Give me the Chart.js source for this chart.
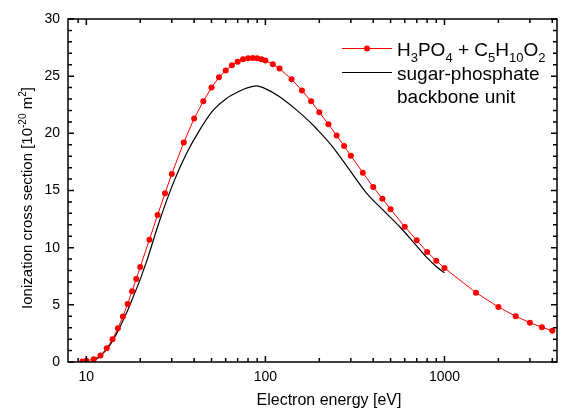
<!DOCTYPE html>
<html>
<head>
<meta charset="utf-8">
<script src="https://cdn.jsdelivr.net/npm/chart.js@4.4.0/dist/chart.umd.min.js"></script>
<style>
    body { margin: 0; background: #fff; }
    #wrap { width: 570px; height: 412px; }
</style>
</head>
<body>
<div id="wrap"><canvas id="chart" width="570" height="412"></canvas></div>
<script>
// H3PO4 + C5H10O2 (red, with markers)
const redEnergy = [9.5, 10, 11, 12, 13, 14, 15, 16, 17, 18, 19, 20, 22.5, 25, 27.5, 30, 35, 40, 45, 50,
    55, 60, 65, 70, 75, 80, 85, 90, 95, 100, 110, 120, 140, 160, 180, 200, 225, 250, 275, 300,
    350, 400, 450, 500, 600, 700, 800, 900, 1000, 1500, 2000, 2500, 3000, 3500, 4000];
const redSigma = [0.05, 0.1, 0.25, 0.57, 1.2, 1.98, 2.95, 3.97, 5.07, 6.18, 7.26, 8.31, 10.7, 12.86, 14.75, 16.45, 19.2, 21.3, 22.8, 24.0,
    24.9, 25.5, 25.95, 26.27, 26.48, 26.56, 26.59, 26.56, 26.48, 26.36, 26.04, 25.66, 24.73, 23.75, 22.8, 21.84, 20.79, 19.8, 18.9, 18.05,
    16.56, 15.3, 14.28, 13.36, 11.84, 10.64, 9.62, 8.86, 8.22, 6.06, 4.81, 4.0, 3.44, 3.03, 2.74];

// sugar-phosphate backbone unit (black line)
const blackEnergy = [10.7, 11.5, 12, 13, 14, 15, 16, 17, 18, 19, 20, 21.7, 25.7, 30.5, 36.3, 43, 51, 60.6, 71.9, 80, 89,
    97, 120, 149, 177, 193, 238, 295, 366, 453, 561, 695, 791, 899, 1000];
const blackSigma = [0, 0.3, 0.55, 1.1, 1.85, 2.7, 3.6, 4.5, 5.45, 6.35, 7.25, 8.8, 12.4, 15.6, 18.25, 20.3, 22.0, 23.05, 23.7, 24.0, 24.15,
    24.0, 23.2, 22.05, 21.0, 20.4, 18.8, 16.8, 14.8, 13.3, 11.85, 10.2, 9.2, 8.35, 7.8];

const xMajorTicks = [10, 100, 1000];
const xMinorTicks = [9, 20, 30, 40, 50, 60, 70, 80, 90, 200, 300, 400, 500, 600, 700, 800, 900, 2000, 3000, 4000];
const yMajorTicks = [0, 5, 10, 15, 20, 25, 30];
const yMinorTicks = [1, 2, 3, 4, 6, 7, 8, 9, 11, 12, 13, 14, 16, 17, 18, 19, 21, 22, 23, 24, 26, 27, 28, 29];

const FONT = '"Liberation Sans", Arial, sans-serif';

function toPoints(xs, ys) {
    return xs.map((x, i) => ({ x: x, y: ys[i] }));
}

// text pieces with sub/superscripts
function richWidth(ctx, parts, size) {
    let w = 0;
    parts.forEach(p => {
        ctx.font = (p.sub || p.sup ? Math.round(size * 0.68) : size) + 'px ' + FONT;
        w += ctx.measureText(p.t).width;
    });
    return w;
}

function drawRich(ctx, parts, x, y, size) {
    parts.forEach(p => {
        const s = p.sub || p.sup ? Math.round(size * 0.68) : size;
        ctx.font = s + 'px ' + FONT;
        let dy = 0;
        if (p.sub) dy = size * 0.3;
        if (p.sup) dy = -size * 0.42;
        ctx.fillText(p.t, x, y + dy);
        x += ctx.measureText(p.t).width;
    });
}

const framePlugin = {
    id: 'frame',
    afterDraw(chart) {
        const ctx = chart.ctx;
        const a = chart.chartArea;
        const xs = chart.scales.x;
        const ys = chart.scales.y;
        ctx.save();
        ctx.strokeStyle = '#000';
        ctx.lineWidth = 1.5;
        ctx.beginPath();
        xMajorTicks.concat(xMinorTicks).forEach(v => {
            const len = xMajorTicks.includes(v) ? 6 : 4;
            const px = xs.getPixelForValue(v);
            ctx.moveTo(px, a.bottom); ctx.lineTo(px, a.bottom - len);
            ctx.moveTo(px, a.top); ctx.lineTo(px, a.top + len);
        });
        yMajorTicks.concat(yMinorTicks).forEach(v => {
            const len = yMajorTicks.includes(v) ? 6 : 4;
            const py = ys.getPixelForValue(v);
            ctx.moveTo(a.left, py); ctx.lineTo(a.left + len, py);
            ctx.moveTo(a.right, py); ctx.lineTo(a.right - len, py);
        });
        ctx.stroke();
        ctx.strokeRect(a.left, a.top, a.right - a.left, a.bottom - a.top);

        // axis titles
        ctx.fillStyle = '#000';
        ctx.textBaseline = 'alphabetic';
        ctx.textAlign = 'left';
        const xt = [{ t: 'Electron energy [eV]' }];
        const xw = richWidth(ctx, xt, 16);
        drawRich(ctx, xt, 329 - xw / 2, 405, 16);

        const yt = [{ t: 'Ionization cross section [10' }, { t: '-20', sup: true }, { t: ' m' }, { t: '2', sup: true }, { t: ']' }];
        const yw = richWidth(ctx, yt, 15);
        ctx.save();
        ctx.translate(32, 198);
        ctx.rotate(-Math.PI / 2);
        drawRich(ctx, yt, -yw / 2, 0, 15);
        ctx.restore();

        // legend
        ctx.strokeStyle = '#ff0000';
        ctx.lineWidth = 1;
        ctx.beginPath();
        ctx.moveTo(342, 48.5); ctx.lineTo(392, 48.5);
        ctx.stroke();
        ctx.fillStyle = '#ff0000';
        ctx.beginPath();
        ctx.arc(367, 48.5, 3, 0, Math.PI * 2);
        ctx.fill();
        ctx.strokeStyle = '#000';
        ctx.beginPath();
        ctx.moveTo(342, 72.5); ctx.lineTo(392, 72.5);
        ctx.stroke();

        ctx.fillStyle = '#000';
        drawRich(ctx, [{ t: 'H' }, { t: '3', sub: true }, { t: 'PO' }, { t: '4', sub: true }, { t: ' + C' }, { t: '5', sub: true },
            { t: 'H' }, { t: '10', sub: true }, { t: 'O' }, { t: '2', sub: true }], 397, 56, 19);
        drawRich(ctx, [{ t: 'sugar-phosphate' }], 397, 80, 19);
        drawRich(ctx, [{ t: 'backbone unit' }], 397, 103, 19);
        ctx.restore();
    }
};

window.onload = function() {
    const ctx = document.getElementById('chart').getContext('2d');
    new Chart(ctx, {
        type: 'line',
        data: {
            datasets: [{
                label: 'H3PO4 + C5H10O2',
                data: toPoints(redEnergy, redSigma),
                borderColor: '#ff0000',
                backgroundColor: '#ff0000',
                borderWidth: 1,
                pointRadius: 3,
                pointBorderWidth: 0,
                tension: 0
            }, {
                label: 'sugar-phosphate backbone unit',
                data: toPoints(blackEnergy, blackSigma),
                borderColor: '#000',
                borderWidth: 1.2,
                pointRadius: 0,
                cubicInterpolationMode: 'monotone'
            }]
        },
        options: {
            responsive: false,
            animation: false,
            layout: { padding: { top: 19, right: 13, left: 0, bottom: 0 } },
            plugins: { legend: { display: false }, tooltip: { enabled: false } },
            scales: {
                x: {
                    type: 'logarithmic',
                    min: 7.9,
                    max: 4250,
                    grid: { display: false, drawTicks: false },
                    border: { display: false },
                    afterFit: s => { s.height = 50; },
                    ticks: {
                        autoSkip: false,
                        maxRotation: 0,
                        padding: 7,
                        color: '#000',
                        font: { family: FONT, size: 14 },
                        callback: v => xMajorTicks.includes(Math.round(v)) && Math.abs(v - Math.round(v)) < 1e-6 ? String(Math.round(v)) : ''
                    }
                },
                y: {
                    min: 0,
                    max: 30,
                    grid: { display: false, drawTicks: false },
                    border: { display: false },
                    afterFit: s => { s.width = 68; },
                    ticks: {
                        stepSize: 5,
                        padding: 8,
                        color: '#000',
                        font: { family: FONT, size: 14 }
                    }
                }
            }
        },
        plugins: [framePlugin]
    });
};
</script>
</body>
</html>
